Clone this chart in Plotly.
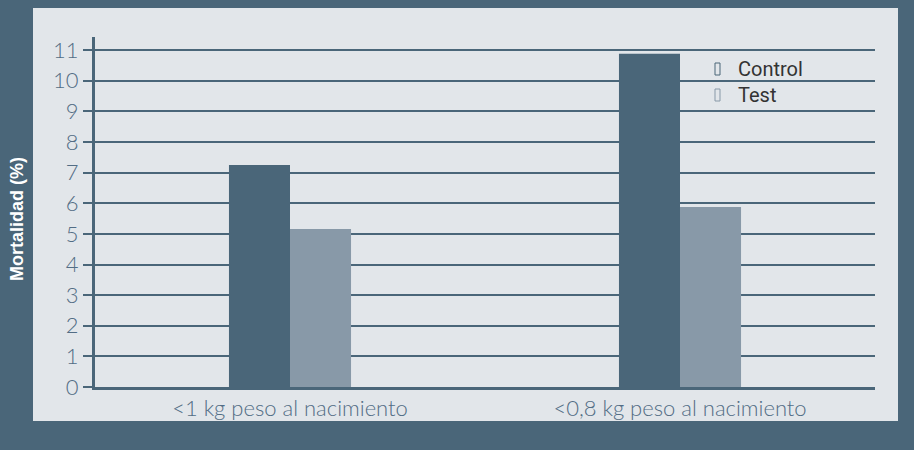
import plotly.graph_objects as go

categories = ["<1 kg peso al nacimiento", "<0,8 kg peso al nacimiento"]
control_values = [7.25, 10.88]
test_values = [5.16, 5.88]
y_ticks = list(range(0, 12))
series_names = ["Control", "Test"]

DARK = "#4a6679"
LIGHT = "#8899a8"
PANEL = "#e2e6ea"
TICKCOL = "#526d85"

fig = go.Figure()
fig.add_trace(go.Bar(x=categories, y=control_values, name=series_names[0],
                     marker=dict(color=DARK, line=dict(width=0)), showlegend=False))
fig.add_trace(go.Bar(x=categories, y=test_values, name=series_names[1],
                     marker=dict(color=LIGHT, line=dict(width=0)), showlegend=False))

W, H = 914, 450
L, R, T, B = 95, 39, 37, 63
pw, ph = W - L - R, H - T - B

def px(xp):
    return (xp - L) / pw

def py(yp):
    return (H - B - yp) / ph

shapes = [
    dict(type="rect", xref="paper", yref="paper", x0=px(33), x1=px(898), y0=py(421), y1=py(8),
         fillcolor=PANEL, line=dict(width=0), layer="below"),
    dict(type="rect", xref="paper", yref="paper", x0=px(715), x1=px(720), y0=py(75), y1=py(63),
         fillcolor="rgba(0,0,0,0)", line=dict(width=1, color=DARK)),
    dict(type="rect", xref="paper", yref="paper", x0=px(715), x1=px(720), y0=py(101), y1=py(89),
         fillcolor="rgba(0,0,0,0)", line=dict(width=1, color=LIGHT)),
]

annotations = [
    dict(text="Control", xref="paper", yref="paper", x=px(736), y=py(69), xanchor="left", yanchor="middle",
         showarrow=False, font=dict(family="Roboto", size=20, color="#333333")),
    dict(text="Test", xref="paper", yref="paper", x=px(736), y=py(95), xanchor="left", yanchor="middle",
         showarrow=False, font=dict(family="Roboto", size=20, color="#333333")),
    dict(text="<b>Mortalidad (%)</b>", xref="paper", yref="paper", x=px(17), y=py(219), xanchor="center",
         yanchor="middle", textangle=-90, showarrow=False,
         font=dict(family="Liberation Sans", size=18, color="white")),
]

fig.update_layout(
    width=W, height=H,
    margin=dict(l=L, r=R, t=T, b=B, pad=0),
    paper_bgcolor=DARK,
    plot_bgcolor="rgba(0,0,0,0)",
    barmode="group",
    bargap=0.687,
    bargroupgap=0,
    shapes=shapes,
    annotations=annotations,
    hovermode=False,
    xaxis=dict(showline=True, linecolor=DARK, linewidth=3, ticks="", showgrid=False,
               tickfont=dict(family="Lato", size=22, color=TICKCOL, weight=300)),
    yaxis=dict(range=[0, 11.43], tickvals=y_ticks, showline=True, linecolor=DARK, linewidth=3,
               ticks="outside", ticklen=9, tickwidth=2, tickcolor=DARK,
               showgrid=True, gridcolor=DARK, gridwidth=2, zeroline=False,
               tickfont=dict(family="Lato", size=22, color=TICKCOL, weight=300)),
)

fig.write_html("out.html", config={"displayModeBar": False},
               post_script="document.body.style.margin='0';document.body.style.overflow='hidden';")
